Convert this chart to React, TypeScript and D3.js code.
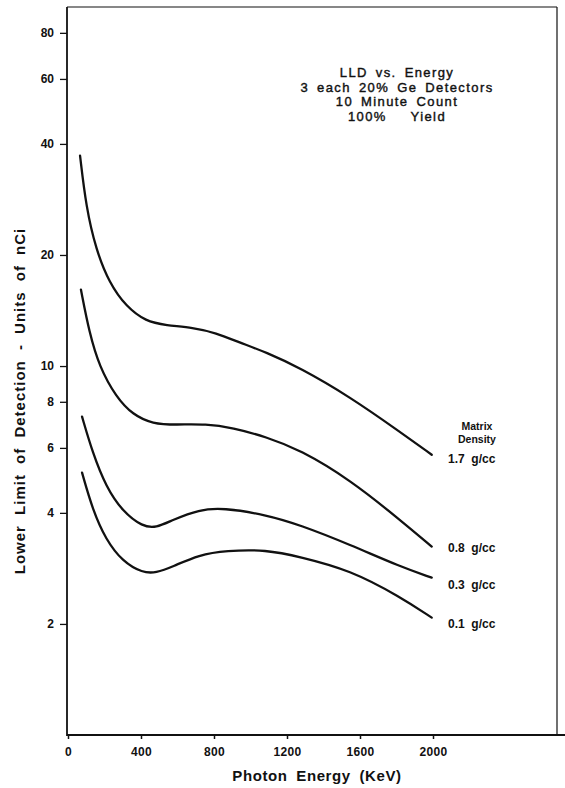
import React, { useEffect, useRef } from "react";
import * as d3 from "d3";

const titleLines = ["LLD vs. Energy", "3 each 20% Ge Detectors", "10 Minute Count", "100%   Yield"];
const xTicks = [0, 400, 800, 1200, 1600, 2000];
const yTicks = [2, 4, 6, 8, 10, 20, 40, 60, 80];

const energy17 = [66, 99, 153, 226, 318, 427, 537, 685, 811, 937, 1085, 1271, 1545, 1819, 1993];
const lld17 = [37.2, 27.0, 20.7, 16.8, 14.5, 13.2, 12.9, 12.7, 12.3, 11.6, 10.9, 9.89, 8.25, 6.63, 5.75];

const energy08 = [71, 117, 172, 263, 355, 464, 592, 756, 902, 1085, 1271, 1545, 1819, 1993];
const lld08 = [16.1, 12.3, 9.96, 8.25, 7.38, 6.97, 6.93, 6.97, 6.8, 6.43, 5.93, 4.92, 3.83, 3.24];

const energy03 = [77, 135, 208, 300, 409, 482, 574, 718, 848, 1085, 1271, 1545, 1819, 1993];
const lld03 = [7.29, 5.82, 4.71, 4.03, 3.67, 3.64, 3.83, 4.08, 4.13, 3.95, 3.71, 3.28, 2.86, 2.67];

const energy01 = [77, 135, 208, 300, 409, 482, 574, 718, 866, 1085, 1271, 1545, 1819, 1993];
const lld01 = [5.14, 4.08, 3.38, 2.95, 2.75, 2.75, 2.86, 3.08, 3.16, 3.18, 3.04, 2.8, 2.37, 2.08];

const seriesLabels = ["1.7  g/cc", "0.8  g/cc", "0.3  g/cc", "0.1  g/cc"];
const legendTitle = ["Matrix", "Density"];

const W = 565;
const H = 788;
const left = 68;
const right = 557;
const top = 7;
const bottom = 735;
const FONT = "'Liberation Sans', Arial, Helvetica, sans-serif";

export default function App() {
  const gx = useRef<SVGGElement>(null);
  const gy = useRef<SVGGElement>(null);

  const x = d3.scaleLinear().domain([0, 2000]).range([left, left + 365]);
  const y = d3.scaleLog().domain([1, 94]).range([bottom, top]);

  const series = [
    { e: energy17, v: lld17 },
    { e: energy08, v: lld08 },
    { e: energy03, v: lld03 },
    { e: energy01, v: lld01 },
  ];
  const line = d3
    .line<[number, number]>()
    .x((d) => x(d[0]))
    .y((d) => y(d[1]))
    .curve(d3.curveBasis);

  useEffect(() => {
    if (gx.current) {
      const a = d3.axisBottom(x).tickValues(xTicks).tickSize(4).tickPadding(8).tickFormat((d) => String(d));
      const s = d3.select(gx.current);
      s.call(a as any);
      s.select(".domain").remove();
      s.selectAll("line").attr("stroke", "#111").attr("stroke-width", 1.5);
      s.selectAll("text")
        .attr("font-family", FONT)
        .attr("font-weight", "bold")
        .attr("font-size", 12)
        .attr("letter-spacing", 0.3)
        .attr("fill", "#111");
    }
    if (gy.current) {
      const a = d3.axisLeft(y).tickValues(yTicks).tickSize(7).tickPadding(6).tickFormat((d) => String(d));
      const s = d3.select(gy.current);
      s.call(a as any);
      s.select(".domain").remove();
      s.selectAll("line").attr("stroke", "#111").attr("stroke-width", 1.3);
      s.selectAll("text")
        .attr("font-family", FONT)
        .attr("font-weight", "bold")
        .attr("font-size", 12)
        .attr("fill", "#111");
    }
  }, []);

  const labelY = [463, 552, 589, 628];

  return (
    <svg width={W} height={H} style={{ position: "absolute", left: 0, top: 0, background: "#fff" }}>
      <rect x={0} y={0} width={W} height={H} fill="#fff" />
      <line x1={left - 1} x2={right} y1={top} y2={top} stroke="#111" strokeWidth={1.2} />
      <line x1={right} x2={right} y1={top} y2={bottom} stroke="#111" strokeWidth={1.2} />
      <line x1={left - 1} x2={left - 1} y1={top} y2={bottom + 1} stroke="#111" strokeWidth={1.8} />
      <line x1={left - 1} x2={W} y1={bottom} y2={bottom} stroke="#111" strokeWidth={1.8} />
      <g ref={gx} transform={`translate(0,${bottom})`} />
      <g ref={gy} transform={`translate(${left - 1},0)`} />
      {series.map((s, i) => (
        <path
          key={i}
          d={line(s.e.map((e, j) => [e, s.v[j]] as [number, number])) || ""}
          fill="none"
          stroke="#111"
          strokeWidth={2.3}
          strokeLinecap="round"
        />
      ))}
      <g fontFamily={FONT} fill="#111">
        {titleLines.map((t, i) => (
          <text
            key={i}
            x={397}
            y={77 + i * 14.5}
            textAnchor="middle"
            fontSize={13}
            stroke="#111"
            strokeWidth={0.4}
            letterSpacing={1.4}
            wordSpacing={3}
            style={{ whiteSpace: "pre" }}
          >
            {t}
          </text>
        ))}
        {legendTitle.map((t, i) => (
          <text key={i} x={477} y={430 + i * 13} textAnchor="middle" fontSize={10.5} fontWeight="bold">
            {t}
          </text>
        ))}
        {seriesLabels.map((t, i) => (
          <text key={i} x={448} y={labelY[i]} fontSize={12} fontWeight="bold" style={{ whiteSpace: "pre" }}>
            {t}
          </text>
        ))}
        <text x={317} y={781} textAnchor="middle" fontSize={15} fontWeight="bold" letterSpacing={0.6} wordSpacing={4}>
          Photon Energy (KeV)
        </text>
        <text
          transform={`translate(25,401) rotate(-90)`}
          textAnchor="middle"
          fontSize={15}
          fontWeight="bold"
          letterSpacing={1}
          wordSpacing={5}
        >
          Lower Limit of Detection - Units of nCi
        </text>
      </g>
    </svg>
  );
}
